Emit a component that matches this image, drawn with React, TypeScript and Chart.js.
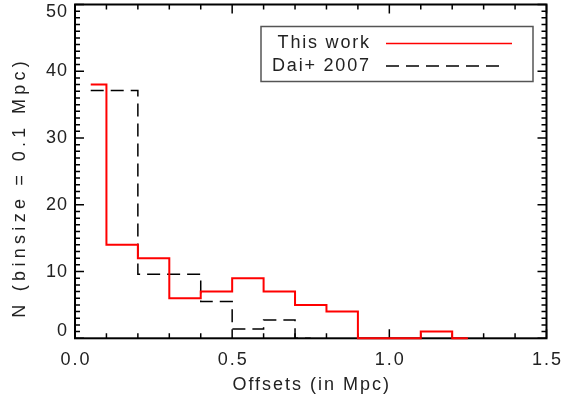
import { useEffect, useRef } from 'react';
import { Chart, registerables } from 'chart.js';

Chart.register(...registerables);

// Histogram bin centres (bin size 0.1 Mpc); the first and last points are half bins.
const thisWorkCenters = [0.05, 0.15, 0.25, 0.35, 0.45, 0.55, 0.65, 0.75, 0.85, 0.95, 1.05, 1.15, 1.25];
const thisWorkCounts = [38, 14, 12, 6, 7, 9, 7, 5, 4, 0, 0, 1, 0];

const daiCenters = [0.05, 0.15, 0.25, 0.35, 0.45, 0.55, 0.65, 0.75];
const daiCounts = [37.1, 37.1, 9.6, 9.6, 5.5, 1.4, 2.75, 0];

const seriesLabels = ['This work', 'Dai+ 2007'];

const xMajorTicks = [0, 0.5, 1.0, 1.5];
const xTickLabels = ['0.0', '0.5', '1.0', '1.5'];
const yMajorTicks = [0, 10, 20, 30, 40, 50];
const yTickLabels = ['0', '10', '20', '30', '40', '50'];

const xTitle = 'Offsets (in Mpc)';
const yTitle = 'N (binsize = 0.1 Mpc)';

const FONT = '18px "Liberation Sans", Arial, sans-serif';
const TEXT_COLOR = '#222';

function drawSpaced(
  ctx: CanvasRenderingContext2D,
  text: string,
  x: number,
  y: number,
  align: 'left' | 'center' | 'right',
  spacing: number
) {
  ctx.save();
  ctx.font = FONT;
  ctx.fillStyle = TEXT_COLOR;
  (ctx as any).letterSpacing = spacing + 'px';
  ctx.textBaseline = 'middle';
  ctx.textAlign = align;
  let dx = 0;
  if (align === 'center') dx = spacing / 2;
  if (align === 'right') dx = spacing;
  ctx.fillText(text, x + dx, y);
  ctx.restore();
}

const framePlugin = {
  id: 'idlFrame',
  beforeDatasetsDraw(chart: any) {
    const { ctx, chartArea } = chart;
    const { left, right, top, bottom } = chartArea;
    const xs = chart.scales.x;
    const ys = chart.scales.y;
    ctx.save();
    ctx.strokeStyle = '#000';
    ctx.lineWidth = 1.5;
    ctx.beginPath();
    // x ticks, bottom and top, pointing inwards
    for (let i = 0; i <= 15; i++) {
      const v = i / 10;
      const px = xs.getPixelForValue(v);
      const major = xMajorTicks.some((t) => Math.abs(t - v) < 1e-6);
      const len = major ? 9 : 5;
      ctx.moveTo(px, bottom);
      ctx.lineTo(px, bottom - len);
      ctx.moveTo(px, top);
      ctx.lineTo(px, top + len);
    }
    // y ticks, left and right
    for (let v = 0; v <= 50; v++) {
      const py = ys.getPixelForValue(v);
      const major = yMajorTicks.includes(v);
      const len = major ? 9 : 5;
      ctx.moveTo(left, py);
      ctx.lineTo(left + len, py);
      ctx.moveTo(right, py);
      ctx.lineTo(right - len, py);
    }
    ctx.stroke();
    ctx.lineWidth = 2;
    ctx.strokeRect(left, top, right - left, bottom - top);
    ctx.restore();
  },
  afterDraw(chart: any) {
    const { ctx, chartArea } = chart;
    const { left, right, top, bottom } = chartArea;
    const xs = chart.scales.x;
    const ys = chart.scales.y;

    xMajorTicks.forEach((v, i) => {
      drawSpaced(ctx, xTickLabels[i], xs.getPixelForValue(v), bottom + 22, 'center', 2);
    });
    yMajorTicks.forEach((v, i) => {
      let py = ys.getPixelForValue(v);
      py = Math.min(Math.max(py, top + 7.5), bottom - 7);
      drawSpaced(ctx, yTickLabels[i], left - 8, py, 'right', 1);
    });

    drawSpaced(ctx, xTitle, (left + right) / 2, bottom + 47, 'center', 2);

    ctx.save();
    ctx.translate(20, 189.5);
    ctx.rotate(-Math.PI / 2);
    drawSpaced(ctx, yTitle, 0, 0, 'center', 4.3);
    ctx.restore();

    // legend box
    const ds = chart.data.datasets;
    ctx.save();
    ctx.strokeStyle = '#555';
    ctx.lineWidth = 1.5;
    ctx.strokeRect(261, 26.5, 272, 55);
    ctx.restore();

    const rows = [43.5, 66];
    const lineEnds = [512, 500];
    ds.forEach((d: any, i: number) => {
      drawSpaced(ctx, d.label, 369, rows[i], 'right', 1.8);
      ctx.save();
      ctx.strokeStyle = d.borderColor;
      ctx.lineWidth = 1.5;
      ctx.setLineDash(d.borderDash || []);
      ctx.beginPath();
      ctx.moveTo(386, rows[i]);
      ctx.lineTo(lineEnds[i], rows[i]);
      ctx.stroke();
      ctx.restore();
    });
  },
};

export default function App() {
  const canvasRef = useRef<HTMLCanvasElement | null>(null);

  useEffect(() => {
    document.body.style.margin = '0';
    const canvas = canvasRef.current;
    if (!canvas) return;
    const chart = new Chart(canvas, {
      type: 'line',
      data: {
        datasets: [
          {
            label: seriesLabels[0],
            data: thisWorkCenters.map((x, i) => ({ x, y: thisWorkCounts[i] })),
            borderColor: '#ff0000',
            borderWidth: 2,
            stepped: 'middle',
            pointRadius: 0,
            fill: false,
            clip: false as any,
            order: 0,
          },
          {
            label: seriesLabels[1],
            data: daiCenters.map((x, i) => ({ x, y: daiCounts[i] })),
            borderColor: '#000000',
            borderWidth: 1.5,
            borderDash: [13, 7],
            stepped: 'middle',
            pointRadius: 0,
            fill: false,
            clip: false as any,
            order: 1,
          },
        ],
      },
      options: {
        animation: false,
        responsive: false,
        devicePixelRatio: 1,
        layout: { padding: { left: 75, right: 17.5, top: 4.5, bottom: 63.7 } },
        plugins: {
          legend: { display: false },
          tooltip: { enabled: false },
        },
        scales: {
          x: { type: 'linear', min: 0, max: 1.5, display: false },
          y: { type: 'linear', min: 0, max: 50, display: false },
        },
      },
      plugins: [framePlugin],
    });
    return () => chart.destroy();
  }, []);

  return (
    <div style={{ width: 564, height: 402, background: '#fff' }}>
      <canvas ref={canvasRef} width={564} height={402} style={{ display: 'block' }} />
    </div>
  );
}
